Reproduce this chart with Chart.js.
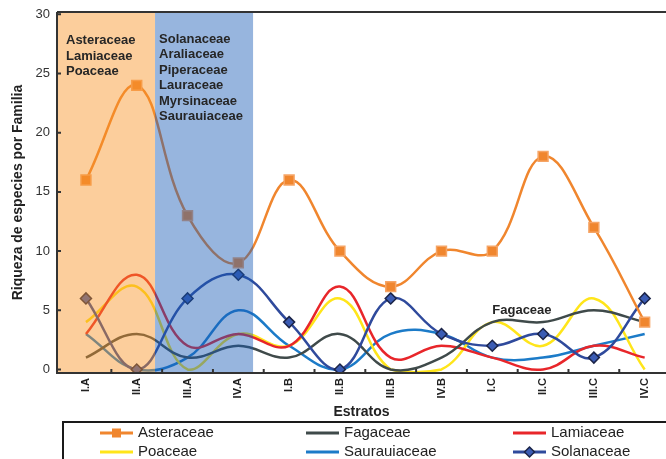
<!DOCTYPE html>
<html>
<head>
<meta charset="utf-8">
<script src="https://cdn.jsdelivr.net/npm/chart.js@4.4.1/dist/chart.umd.min.js"></script>
<style>
  html, body { margin: 0; padding: 0; background: #ffffff; overflow: hidden; }
  #wrap { width: 666px; height: 459px; }
  canvas { display: block; }
</style>
</head>
<body>
<div id="wrap"><canvas id="myChart" width="666" height="459"></canvas></div>
<script>
// Datos: riqueza de especies por familia en cada estrato
const categories = ['I.A', 'II.A', 'III.A', 'IV.A', 'I.B', 'II.B', 'III.B', 'IV.B', 'I.C', 'II.C', 'III.C', 'IV.C'];
const asteraceae   = [16, 24, 13, 9, 16, 10, 7, 10, 10, 18, 12, 4];
const fagaceae     = [1, 3, 1, 2, 1, 3, 0, 1, 4, 4, 5, 4];
const lamiaceae    = [3, 8, 2, 3, 2, 7, 1, 2, 1, 0, 2, 1];
const poaceae      = [4, 7, 0, 3, 2, 6, 0, 0, 4, 2, 6, 0];
const saurauiaceae = [3, 0, 1, 5, 2, 0, 3, 3, 1, 1, 2, 3];
const solanaceae   = [6, 0, 6, 8, 4, 0, 6, 3, 2, 3, 1, 6];
const yTicks = [0, 5, 10, 15, 20, 25, 30];

const bandOrangeText = ['Asteraceae', 'Lamiaceae', 'Poaceae'];
const bandBlueText = ['Solanaceae', 'Araliaceae', 'Piperaceae', 'Lauraceae', 'Myrsinaceae', 'Saurauiaceae'];

const FONT = "'Liberation Sans', Arial, sans-serif";

// estilo de cada serie (orden = orden de la leyenda)
const series = [
  { label: 'Asteraceae', data: asteraceae, color: '#f0862e', marker: 'rect', radius: 7, fill: '#f0862e', edge: '#f6a566', order: 0 },
  { label: 'Fagaceae', data: fagaceae, color: '#3f4a4a', order: 2 },
  { label: 'Lamiaceae', data: lamiaceae, color: '#e8262a', order: 2 },
  { label: 'Poaceae', data: poaceae, color: '#ffe51a', order: 2 },
  { label: 'Saurauiaceae', data: saurauiaceae, color: '#1c7bc8', order: 2 },
  { label: 'Solanaceae', data: solanaceae, color: '#2f4a9c', marker: 'rectRot', radius: 5.5, fill: '#3b5cb4', edge: '#1b2447', order: 1 }
];

const decorPlugin = {
  id: 'decor',
  afterDatasetsDraw(chart) {
    const { ctx, chartArea: a, scales: { x, y } } = chart;
    const xb = x.getPixelForValue(1.36);
    const xc = x.getPixelForValue(3.29);

    // franjas semitransparentes encima de las lineas
    ctx.save();
    ctx.beginPath();
    ctx.rect(a.left, a.top, a.right - a.left, a.bottom - a.top);
    ctx.clip();
    ctx.globalAlpha = 0.45;
    ctx.fillStyle = 'rgb(248,146,35)';
    ctx.fillRect(a.left, a.top, xb - a.left, a.bottom - a.top);
    ctx.fillStyle = 'rgb(24,91,182)';
    ctx.fillRect(xb, a.top, xc - xb, a.bottom - a.top);
    ctx.restore();

    // textos de las franjas
    ctx.save();
    ctx.fillStyle = '#262626';
    ctx.font = 'bold 13px ' + FONT;
    ctx.textBaseline = 'middle';
    ctx.textAlign = 'left';
    bandOrangeText.forEach((t, i) => ctx.fillText(t, a.left + 9, 40.5 + i * 15.5));
    bandBlueText.forEach((t, i) => ctx.fillText(t, xb + 4, 39.5 + i * 15.4));
    ctx.fillText('Fagaceae', x.getPixelForValue(8), y.getPixelForValue(5));
    ctx.restore();
  },
  afterDraw(chart) {
    const { ctx, chartArea: a, scales: { x, y } } = chart;
    ctx.save();
    ctx.strokeStyle = '#333333';
    ctx.lineWidth = 2;
    ctx.beginPath();
    ctx.moveTo(a.left, a.top); ctx.lineTo(chart.width, a.top);
    ctx.moveTo(a.left, a.top); ctx.lineTo(a.left, a.bottom);
    ctx.moveTo(a.left - 1, a.bottom); ctx.lineTo(chart.width, a.bottom);
    ctx.stroke();

    // marcas hacia adentro
    ctx.beginPath();
    yTicks.forEach(v => {
      const py = y.getPixelForValue(v);
      ctx.moveTo(a.left, py); ctx.lineTo(a.left + 4, py);
    });
    for (let i = 0; i < categories.length; i++) {
      const px = x.getPixelForValue(i + 0.5);
      ctx.moveTo(px, a.bottom); ctx.lineTo(px, a.bottom - 4);
    }
    ctx.stroke();

    // leyenda
    ctx.strokeStyle = '#1a1a1a';
    ctx.strokeRect(63, 422, 700, 100);
    const colX = [100, 306, 513];
    const rowY = [433, 452];
    ctx.font = '15px ' + FONT;
    ctx.textBaseline = 'middle';
    series.forEach((s, i) => {
      const x0 = colX[i % 3];
      const y0 = rowY[Math.floor(i / 3)];
      ctx.strokeStyle = s.color;
      ctx.lineWidth = 3;
      ctx.beginPath();
      ctx.moveTo(x0, y0); ctx.lineTo(x0 + 33, y0);
      ctx.stroke();
      if (s.marker === 'rect') {
        ctx.fillStyle = s.fill;
        ctx.fillRect(x0 + 12, y0 - 4.5, 9, 9);
      } else if (s.marker === 'rectRot') {
        ctx.fillStyle = s.fill;
        ctx.strokeStyle = s.edge;
        ctx.lineWidth = 1.5;
        ctx.beginPath();
        ctx.moveTo(x0 + 16.5, y0 - 5); ctx.lineTo(x0 + 21.5, y0);
        ctx.lineTo(x0 + 16.5, y0 + 5); ctx.lineTo(x0 + 11.5, y0);
        ctx.closePath();
        ctx.fill(); ctx.stroke();
      }
      ctx.fillStyle = '#222222';
      ctx.fillText(s.label, x0 + 38, y0);
    });
    ctx.restore();
  }
};

const ctx = document.getElementById('myChart').getContext('2d');

new Chart(ctx, {
  type: 'line',
  data: {
    datasets: series.map(s => ({
      label: s.label,
      data: s.data.map((v, i) => ({ x: i, y: v })),
      borderColor: s.color,
      backgroundColor: s.fill || s.color,
      borderWidth: 2.5,
      tension: 0.4,
      pointStyle: s.marker || 'circle',
      pointRadius: s.marker ? s.radius : 0,
      pointBackgroundColor: s.fill || s.color,
      pointBorderColor: s.edge || s.color,
      pointBorderWidth: 1.5,
      order: s.order
    }))
  },
  options: {
    responsive: false,
    animation: false,
    layout: { autoPadding: false, padding: { top: 12, bottom: 37, left: 0, right: 0 } },
    scales: {
      x: {
        type: 'linear',
        min: -0.57,
        max: 11.42,
        grid: { display: false, drawTicks: false },
        border: { display: false },
        afterBuildTicks: s => { s.ticks = categories.map((c, i) => ({ value: i })); },
        afterFit: s => { s.height = 49; s.paddingLeft = 0; s.paddingRight = 0; },
        ticks: {
          autoSkip: false,
          minRotation: 90,
          maxRotation: 90,
          padding: 5,
          color: '#222222',
          font: { family: FONT, size: 11, weight: 'bold' },
          callback: v => categories[v] ?? ''
        },
        title: {
          display: true,
          text: 'Estratos',
          color: '#222222',
          font: { family: FONT, size: 14, weight: 'bold' },
          padding: { top: 0, bottom: 1 }
        }
      },
      y: {
        min: -0.3,
        max: 30.2,
        grid: { display: false, drawTicks: false },
        border: { display: false },
        afterBuildTicks: s => { s.ticks = yTicks.map(v => ({ value: v })); },
        afterFit: s => { s.width = 57; s.paddingTop = 0; s.paddingBottom = 0; },
        ticks: {
          padding: 7,
          color: '#333333',
          font: { family: FONT, size: 13 }
        },
        title: {
          display: true,
          text: 'Riqueza de especies por Familia',
          color: '#222222',
          font: { family: FONT, size: 14, weight: 'bold' },
          padding: { top: 10, bottom: 0 }
        }
      }
    },
    plugins: {
      legend: { display: false },
      tooltip: { enabled: false }
    }
  },
  plugins: [decorPlugin]
});
</script>
</body>
</html>
